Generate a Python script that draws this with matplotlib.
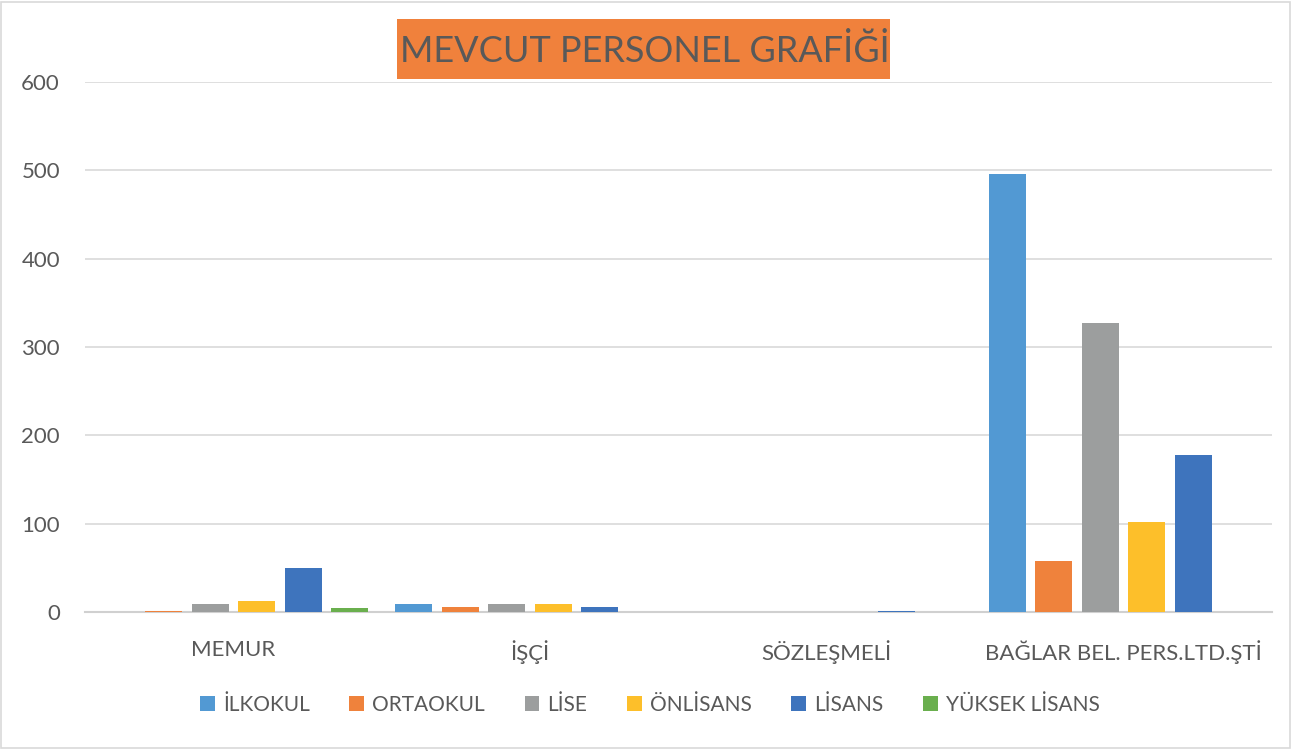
import matplotlib.pyplot as plt
import numpy as np
from matplotlib.patches import Rectangle, Patch

# ==============================
# Data
# ==============================
categories = ["MEMUR", "İŞÇİ", "SÖZLEŞMELİ", "BAĞLAR BEL. PERS.LTD.ŞTİ"]
series_names = ["İLKOKUL", "ORTAOKUL", "LİSE", "ÖNLİSANS", "LİSANS", "YÜKSEK LİSANS"]

ilkokul = [0, 9, 0, 496]
ortaokul = [1, 6, 0, 58]
lise = [9, 9, 0, 327]
onlisans = [13, 9, 0, 102]
lisans = [50, 6, 1, 178]
yuksek_lisans = [5, 0, 0, 0]

values = [ilkokul, ortaokul, lise, onlisans, lisans, yuksek_lisans]
colors = ["#5299D3", "#EF823C", "#9C9E9E", "#FDBF2A", "#3E74BD", "#6AAF4E"]

text_color = "#595959"
plt.rcParams["font.family"] = ["Lato", "DejaVu Sans"]

# ==============================
# Figure
# ==============================
W, H = 1292, 749
fig = plt.figure(figsize=(W / 100, H / 100), dpi=100)
fig.patch.set_facecolor("white")

# outer border
fig.patches.append(Rectangle((1 / W, 1 / H), 1 - 3 / W, 1 - 3 / H, transform=fig.transFigure,
                             fill=False, edgecolor="#d9d9d9", linewidth=1.2))

ax = fig.add_axes([85 / W, (H - 612) / H, (1272 - 85) / W, (612 - 82) / H])

x = np.arange(len(categories))
slot = 46.5 / 297
bar_w = 37 / 297
for i, (name, vals, c) in enumerate(zip(series_names, values, colors)):
    offs = (i - 2.5) * slot
    ax.bar(x + offs, vals, width=bar_w, color=c, label=name, zorder=3)

ax.set_xlim(-0.5, 3.5)
ax.set_ylim(0, 600)
ax.set_yticks(np.arange(0, 601, 100))
ax.grid(axis="y", color="#d9d9d9", linewidth=1.2, zorder=0)
for s in ["top", "right", "left"]:
    ax.spines[s].set_visible(False)
ax.spines["bottom"].set_color("#d0d0d0")
ax.spines["bottom"].set_linewidth(1.5)
ax.tick_params(axis="both", length=0, labelsize=16, colors=text_color)
ax.tick_params(axis="y", pad=18)
ax.tick_params(axis="x", pad=20)
ax.set_xticks(x)
ax.set_xticklabels(categories)

# legend
handles = [Patch(facecolor=c, label=n) for n, c in zip(series_names, colors)]
leg = fig.legend(handles=handles, loc="center", bbox_to_anchor=(650 / W, (H - 705) / H),
                 ncol=6, frameon=False, fontsize=15, handlelength=0.7, handleheight=0.7,
                 handletextpad=0.4, columnspacing=1.9)
for t in leg.get_texts():
    t.set_color(text_color)

# title box
fig.patches.append(Rectangle((397 / W, (H - 79) / H), (890 - 397) / W, 60 / H,
                             transform=fig.transFigure, facecolor="#F0813C", edgecolor="none"))
fig.text(645 / W, (H - 51) / H, "MEVCUT PERSONEL GRAFİĞİ", ha="center", va="center",
         fontsize=26, color=text_color)

plt.savefig("out.png", dpi=100)
